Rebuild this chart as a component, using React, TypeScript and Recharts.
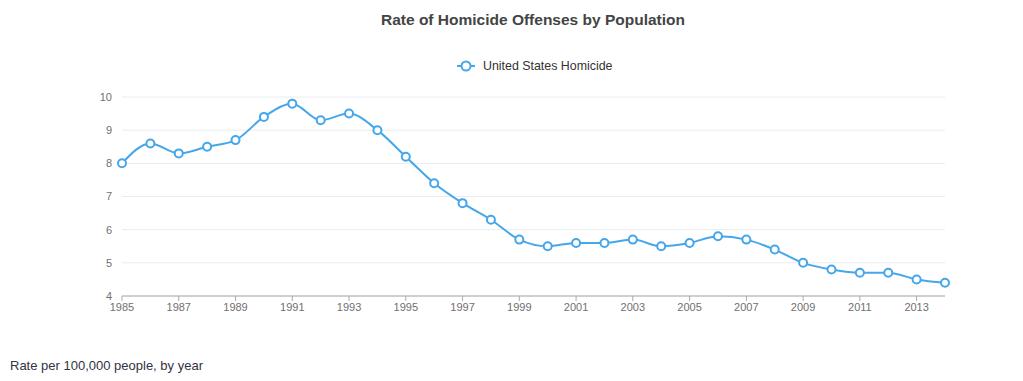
import React from "react";
import { LineChart, Line, XAxis, YAxis, CartesianGrid } from "recharts";

const years = [1985,1986,1987,1988,1989,1990,1991,1992,1993,1994,1995,1996,1997,1998,1999,2000,2001,2002,2003,2004,2005,2006,2007,2008,2009,2010,2011,2012,2013,2014];
const rates = [8.0,8.6,8.3,8.5,8.7,9.4,9.8,9.3,9.5,9.0,8.2,7.4,6.8,6.3,5.7,5.5,5.6,5.6,5.7,5.5,5.6,5.8,5.7,5.4,5.0,4.8,4.7,4.7,4.5,4.4];
const xTicks = [1985,1987,1989,1991,1993,1995,1997,1999,2001,2003,2005,2007,2009,2011,2013];
const yTicks = [4,5,6,7,8,9,10];
const seriesName = "United States Homicide";
const title = "Rate of Homicide Offenses by Population";
const caption = "Rate per 100,000 people, by year";

const data = years.map((y, i) => ({ year: y, value: rates[i] }));
const BLUE = "#45a7ea";
const FONT = "'Liberation Sans', Arial, Helvetica, sans-serif";

export default function App() {
  return (
    <div style={{ position: "absolute", left: 0, top: 0, width: 1023, height: 381, background: "#fff", fontFamily: FONT }}>
      <div style={{ position: "absolute", left: 0, top: 11, width: 1066, textAlign: "center", fontSize: 15.5, fontWeight: "bold", color: "#444" }}>
        {title}
      </div>
      <div style={{ position: "absolute", left: 456, top: 59, display: "flex", alignItems: "center", fontSize: 12.4, color: "#333", zIndex: 2 }}>
        <svg width={20} height={14} style={{ marginRight: 7 }}>
          <line x1={1} y1={7} x2={19} y2={7} stroke={BLUE} strokeWidth={2} />
          <circle cx={10} cy={7} r={4.5} fill="#fff" stroke={BLUE} strokeWidth={2} />
        </svg>
        <span>{seriesName}</span>
      </div>
      <LineChart width={1023} height={381} data={data} margin={{ top: 97, right: 78, bottom: 55, left: 82 }}>
        <CartesianGrid horizontal={true} vertical={false} stroke="#e9ecf0" />
        <XAxis
          dataKey="year"
          type="number"
          domain={[1985, 2014]}
          ticks={xTicks}
          interval={0}
          height={30}
          axisLine={{ stroke: "#aaa", strokeWidth: 1 }}
          tickLine={{ stroke: "#aaa" }}
          tickSize={5}
          tick={{ fill: "#707070", fontSize: 11, fontFamily: FONT }}
        />
        <YAxis
          domain={[4, 10]}
          ticks={yTicks}
          interval={0}
          width={40}
          axisLine={false}
          tickLine={false}
          tickMargin={4}
          tick={{ fill: "#707070", fontSize: 11, fontFamily: FONT }}
        />
        <Line
          type="monotone"
          dataKey="value"
          name={seriesName}
          stroke={BLUE}
          strokeWidth={2}
          dot={{ r: 4, fill: "#fff", stroke: BLUE, strokeWidth: 2 }}
          isAnimationActive={false}
        />
      </LineChart>
      <div style={{ position: "absolute", left: 10, top: 358, fontSize: 13, color: "#333344" }}>{caption}</div>
    </div>
  );
}
